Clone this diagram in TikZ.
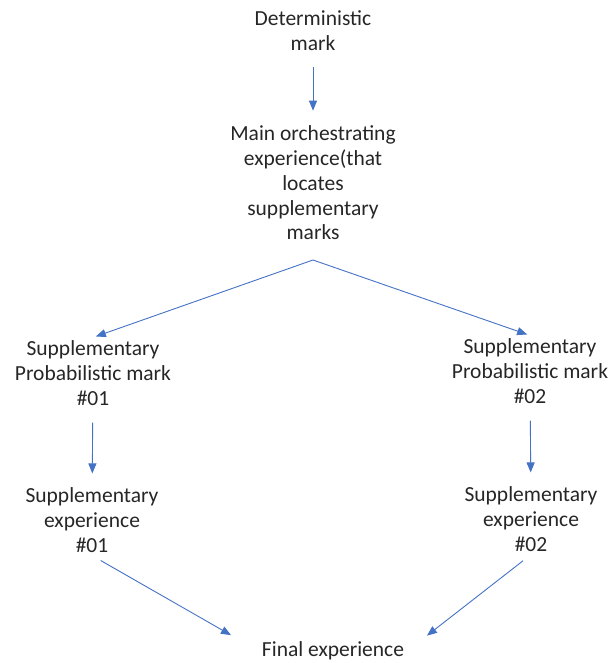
\documentclass[tikz,border=0pt]{standalone}
\usepackage{fontspec}
\setmainfont{Carlito}
\usetikzlibrary{positioning, arrows.meta}
\definecolor{arrowblue}{RGB}{68,114,196}
\tikzset{
  lbl/.style={align=center, font=\fontsize{21.5}{24.8}\selectfont, text=black!85, inner sep=3pt},
  link/.style={draw=arrowblue, line width=0.9pt, -{Triangle[length=10pt,width=8pt]}}}

\begin{document}
\begin{tikzpicture}[x=1pt,y=-1pt]
\useasboundingbox (0,0) rectangle (612,663);
	\node[lbl] (det) at (313,31) {Deterministic\\mark};
	\node[lbl] (main) at (313,183) {Main orchestrating\\experience(that\\locates\\supplementary\\marks};
	\coordinate (split) at (313,260);
\node[lbl] (pm1) at (93,373) {Supplementary\\Probabilistic mark\\\#01};
\node[lbl] (pm2) at (530,371) {Supplementary\\Probabilistic mark\\\#02};
\node[lbl] (se1) at (92,520) {Supplementary\\experience\\\#01};
\node[lbl] (se2) at (531,519) {Supplementary\\experience\\\#02};
\node[lbl] (fin) at (333,651) {Final experience};
% arrows
\draw[link, shorten <=13pt, shorten >=12pt] (det) -- (main);
\draw[link, shorten >=3pt] (split) -- (pm1.north);
\draw[link, shorten >=3pt] (split) -- (pm2.north);
\draw[link, shorten <=14pt, shorten >=11pt] (pm1) -- (se1);
\draw[link, shorten <=14pt, shorten >=11pt] (pm2) -- (se2);
\draw[link, shorten <=10pt, shorten >=32pt] (se1.south) -- (fin.west);
\draw[link, shorten <=10pt, shorten >=25pt] (se2.south) -- (fin.east);
\end{tikzpicture}
\end{document}
